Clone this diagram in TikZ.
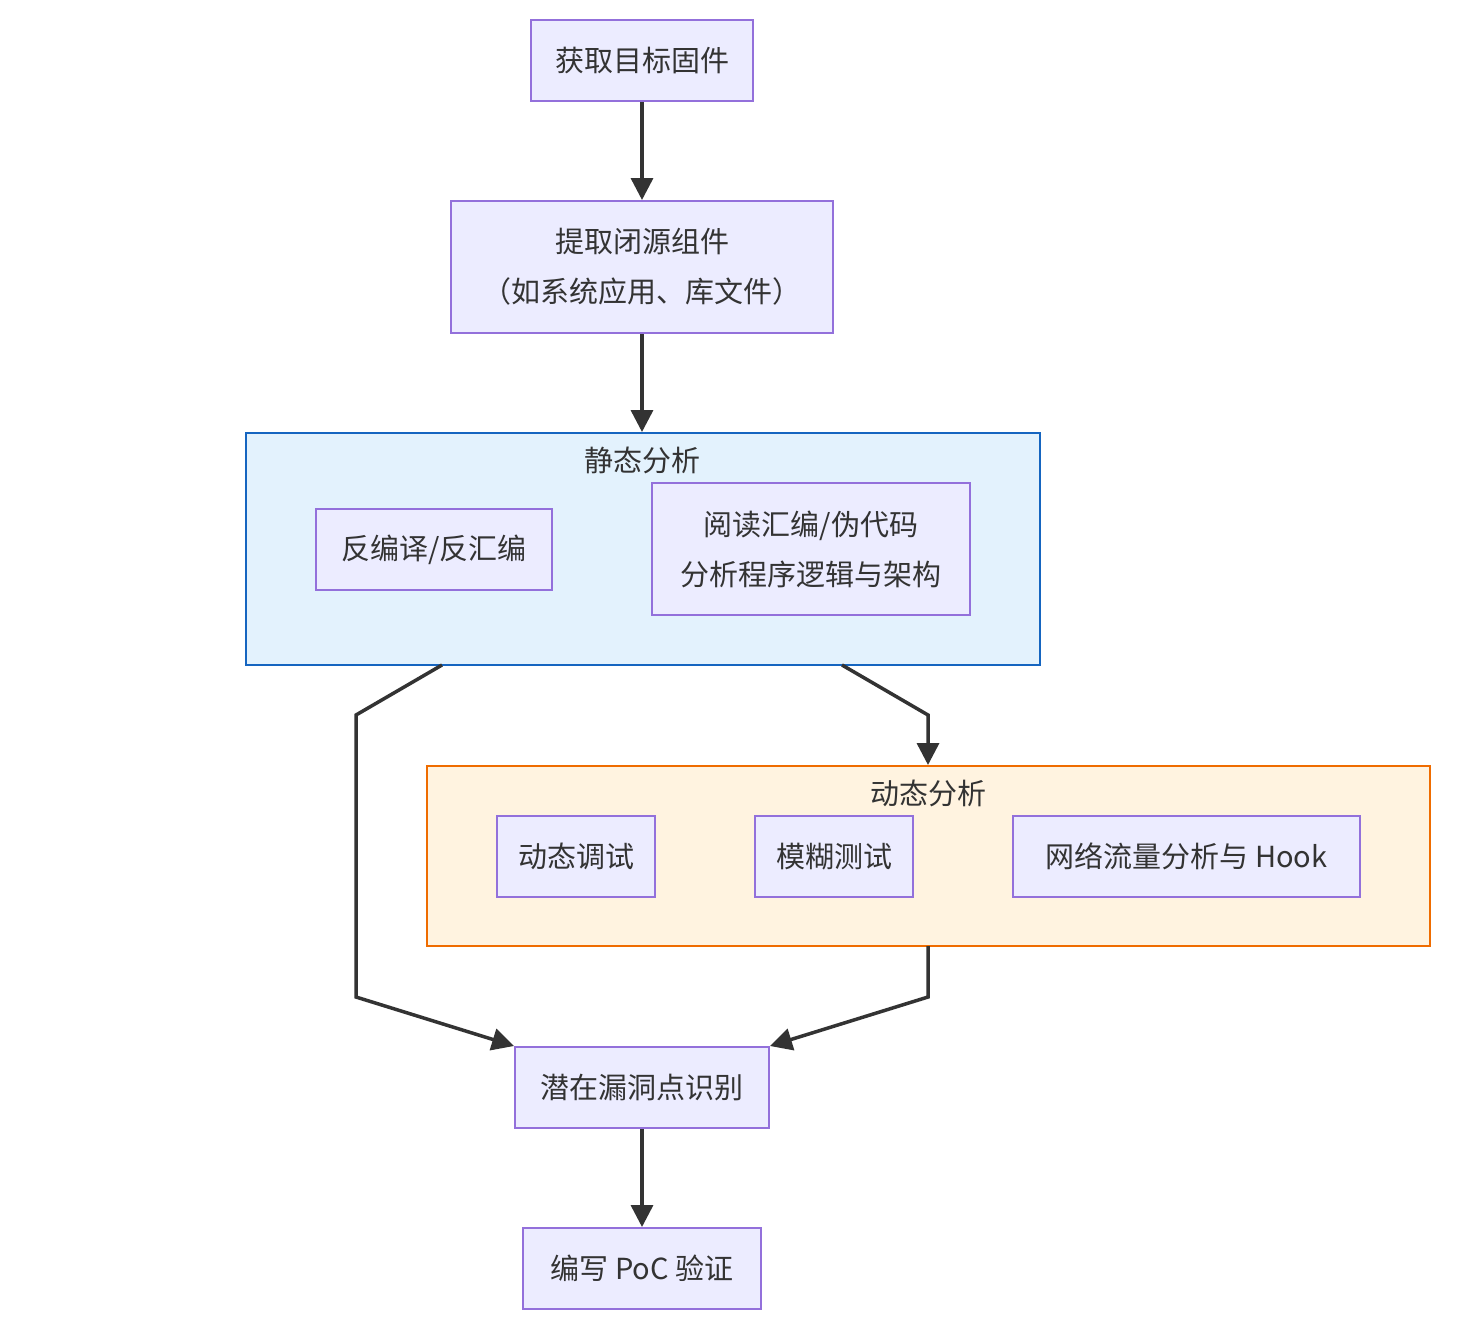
\documentclass[tikz,border=0pt]{standalone}
\usepackage{fontspec}
\setmainfont{Noto Sans CJK SC}
\usetikzlibrary{arrows.meta}
\definecolor{nfill}{HTML}{ECECFF}
\definecolor{nbord}{HTML}{9370DB}
\definecolor{sfill}{HTML}{E3F2FD}
\definecolor{sbord}{HTML}{1565C0}
\definecolor{dfill}{HTML}{FFF3E0}
\definecolor{dbord}{HTML}{EF6C00}
\definecolor{edge}{HTML}{333333}
\begin{document}
\begin{tikzpicture}[x=1pt,y=-1pt,
  box/.style={draw=nbord,fill=nfill,line width=2pt,inner sep=0pt,align=center,font=\fontsize{29}{50}\selectfont,text=edge},
  clus/.style={line width=2pt,inner sep=0pt},
  ttl/.style={font=\fontsize{29}{36}\selectfont,text=edge},
  arr/.style={draw=edge,line width=3.5pt,-{Triangle[length=22pt,width=22pt]}}]
\useasboundingbox (0,0) rectangle (1471,1339);
\fill[white] (0,0) rectangle (1471,1339);
\node[box,minimum width=222pt,minimum height=81pt] (A) at (642,60.5) {获取目标固件};
\node[box,minimum width=382pt,minimum height=132pt] (B) at (642,267) {提取闭源组件\\（如系统应用、库文件）};
\node[clus,draw=sbord,fill=sfill,minimum width=794pt,minimum height=232pt] (S) at (643,549) {};
\node[ttl] (St) at (642,460) {静态分析};
\node[box,minimum width=236pt,minimum height=81pt] (C) at (434,549.5) {反编译/反汇编};
\node[box,minimum width=318pt,minimum height=132pt] (D) at (811,549) {阅读汇编/伪代码\\分析程序逻辑与架构};
\node[clus,draw=dbord,fill=dfill,minimum width=1003pt,minimum height=180pt] (Dy) at (928.5,856) {};
\node[ttl] (Dt) at (928,793) {动态分析};
\node[box,minimum width=158pt,minimum height=81pt] (E) at (576,856.5) {动态调试};
\node[box,minimum width=158pt,minimum height=81pt] (F) at (834,856.5) {模糊测试};
\node[box,minimum width=347pt,minimum height=81pt] (G) at (1186.5,856.5) {网络流量分析与 Hook};
\node[box,minimum width=254pt,minimum height=81pt] (H) at (642,1087.5) {潜在漏洞点识别};
\node[box,minimum width=238pt,minimum height=81pt] (I) at (642,1268.5) {编写 PoC 验证};
\coordinate (s1) at (442,665); \coordinate (s1a) at (356,715); \coordinate (s1b) at (356,997);
\coordinate (s2) at (842,665); \coordinate (s2a) at (928,715);
\coordinate (d1) at (928,946); \coordinate (d1a) at (928,997);
\draw[arr] (A) -- (B);
\draw[arr] (B) -- (S.north -| B);
\draw[arr] (s1) -- (s1a) -- (s1b) -- (H.north west);
\draw[arr] (s2) -- (s2a) -- (Dy.north -| s2a);
\draw[arr] (d1) -- (d1a) -- (H.north east);
\draw[arr] (H) -- (I);
\end{tikzpicture}
\end{document}
